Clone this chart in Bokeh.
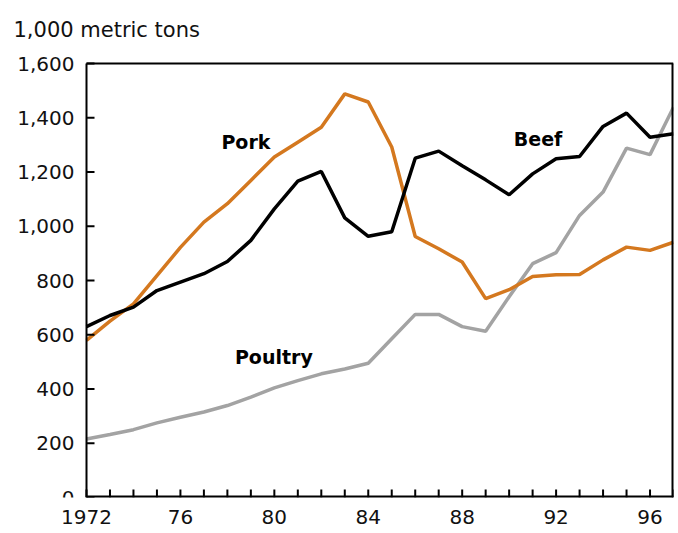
from bokeh.plotting import figure
from bokeh.models import FixedTicker, Label, NumeralTickFormatter, Range1d
from bokeh.embed import file_html
from bokeh.resources import INLINE

years = list(range(1972, 1998))
beef = [630, 671, 702, 763, 794, 825, 870, 948, 1064, 1166, 1202, 1031, 963, 980,
        1251, 1277, 1223, 1171, 1116, 1193, 1249, 1257, 1368, 1417, 1328, 1341]
pork = [579, 650, 714, 818, 922, 1015, 1083, 1169, 1255, 1310, 1365, 1488, 1458, 1292,
        962, 917, 868, 733, 766, 815, 821, 822, 876, 923, 911, 941]
poultry = [216, 232, 250, 275, 296, 315, 339, 370, 404, 431, 456, 474, 495, 585,
           675, 675, 630, 613, 740, 862, 903, 1040, 1126, 1288, 1264, 1439]

x_major = [1972, 1976, 1980, 1984, 1988, 1992, 1996]
x_labels = ["1972", "76", "80", "84", "88", "92", "96"]
y_ticks = [0, 200, 400, 600, 800, 1000, 1200, 1400, 1600]

series_labels = [("Pork", 1978.79, 1310), ("Beef", 1991.23, 1320), ("Poultry", 1979.98, 517)]
unit_label = "1,000 metric tons"

FONT = "DejaVu Sans"
X0, X1, Y0, Y1 = 1972, 1997, 0, 1600
BOX_W, BOX_H = 587, 434      # pixel size of the plot box
LEFT_PX, TOP_PX = 86, 63      # room left of / above the plot box
TICK_PX = 8

x_start = X0 - (X1 - X0) * LEFT_PX / BOX_W
y_end = Y1 + (Y1 - Y0) * TOP_PX / BOX_H

p = figure(width=678, height=533, output_backend="svg", toolbar_location=None,
           x_range=Range1d(x_start, X1), y_range=Range1d(Y0, y_end))
p.min_border_left = 0
p.min_border_right = 5
p.min_border_top = 0
p.min_border_bottom = 36
p.outline_line_color = None
p.xgrid.visible = False
p.ygrid.visible = False
p.background_fill_color = "white"
p.border_fill_color = "white"

p.line(years, poultry, line_color="#A3A3A3", line_width=3.5)
p.line(years, pork, line_color="#D4781F", line_width=3.5)
p.line(years, beef, line_color="black", line_width=3.5)

# plot box: top, left (inside the frame), bottom and right (on frame edges)
p.segment(x0=[X0, X0], y0=[Y1, Y0], x1=[X1, X0], y1=[Y1, Y1],
          line_color="black", line_width=2)
p.segment(x0=[X0, X1], y0=[Y0, Y0], x1=[X1, X1], y1=[Y0, Y1],
          line_color="black", line_width=4)

# inward tick marks
ty = (Y1 - Y0) * TICK_PX / BOX_H
tx = (X1 - X0) * TICK_PX / BOX_W
p.segment(x0=years, y0=[Y0] * len(years), x1=years, y1=[Y0 + ty] * len(years),
          line_color="black", line_width=2)
p.segment(x0=[X0] * len(y_ticks), y0=y_ticks, x1=[X0 + tx] * len(y_ticks), y1=y_ticks,
          line_color="black", line_width=2)

xa = p.xaxis[0]
xa.ticker = FixedTicker(ticks=x_major, minor_ticks=years)
xa.major_label_overrides = {k: v for k, v in zip(x_major, x_labels)}
ya = p.yaxis[0]
ya.ticker = FixedTicker(ticks=y_ticks, minor_ticks=[])
ya.formatter = NumeralTickFormatter(format="0,0")
ya.fixed_location = X0

for ax in (xa, ya):
    ax.axis_line_color = None
    ax.major_tick_in = 0
    ax.major_tick_out = 0
    ax.minor_tick_in = 0
    ax.minor_tick_out = 0
    ax.major_tick_line_color = None
    ax.minor_tick_line_color = None
    ax.major_label_text_font = FONT
    ax.major_label_text_font_size = "20px"
    ax.major_label_text_color = "#111111"
xa.major_label_standoff = 12
ya.major_label_standoff = 12

for txt, x, y in series_labels:
    p.add_layout(Label(x=x, y=y, text=txt, text_align="center", text_baseline="alphabetic",
                       text_font=FONT, text_font_style="bold", text_font_size="19px",
                       text_color="black"))

p.add_layout(Label(x=X0, y=y_end, x_offset=-73, y_offset=-29, text=unit_label,
                   text_align="left", text_baseline="alphabetic",
                   text_font=FONT, text_font_size="21px", text_color="#111111"))

open("out.html", "w").write(file_html(p, INLINE))
